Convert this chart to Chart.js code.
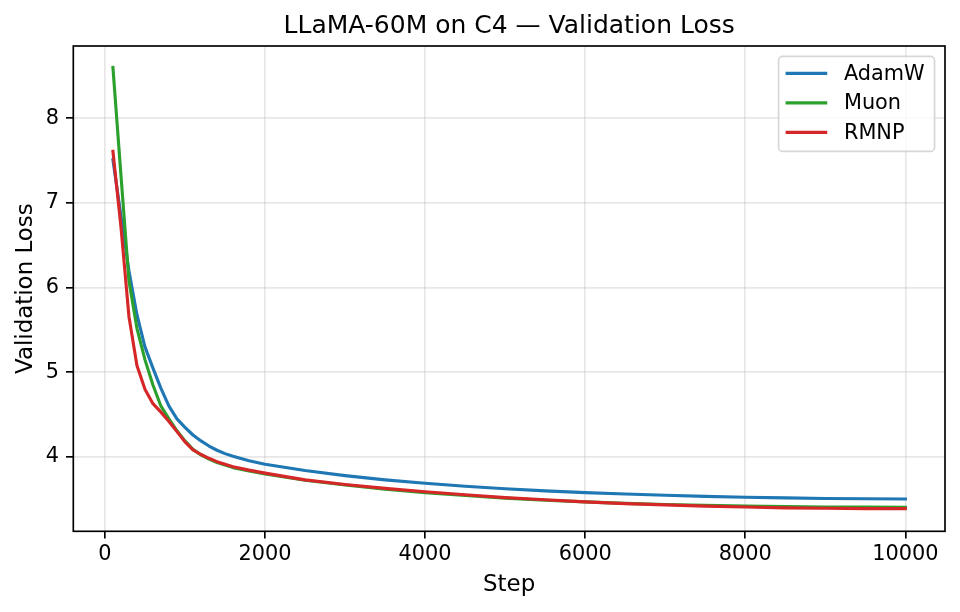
<!DOCTYPE html>
<html>
<head>
<meta charset="utf-8">
<script src="https://cdn.jsdelivr.net/npm/chart.js@4.4.1/dist/chart.umd.min.js"></script>
<style>
  body { margin: 0; background: #fff; }
</style>
</head>
<body>
<canvas id="grafica" width="960" height="612"></canvas>
<script>
// datos
const steps = [100, 200, 300, 400, 500, 600, 700, 800, 900, 1000, 1100, 1200, 1300, 1400, 1500,
  1600, 1800, 2000, 2500, 3000, 3500, 4000, 4500, 5000, 5500, 6000, 6500, 7000, 7500, 8000,
  8500, 9000, 9500, 10000];
const adamw = [7.51, 6.85, 6.20, 5.68, 5.30, 5.05, 4.81, 4.60, 4.45, 4.35, 4.26, 4.19, 4.13, 4.08, 4.04,
  4.01, 3.955, 3.915, 3.84, 3.78, 3.73, 3.69, 3.655, 3.625, 3.60, 3.58, 3.563, 3.548, 3.535, 3.525,
  3.517, 3.511, 3.507, 3.505];
const muon = [8.60, 7.33, 6.08, 5.52, 5.15, 4.85, 4.60, 4.45, 4.31, 4.19, 4.09, 4.025, 3.975, 3.935, 3.905,
  3.875, 3.835, 3.80, 3.725, 3.67, 3.62, 3.58, 3.545, 3.515, 3.49, 3.47, 3.452, 3.44, 3.43, 3.42,
  3.415, 3.41, 3.408, 3.405];
const rmnp = [7.61, 6.72, 5.66, 5.08, 4.80, 4.63, 4.53, 4.42, 4.30, 4.18, 4.085, 4.03, 3.985, 3.945, 3.915,
  3.885, 3.845, 3.81, 3.73, 3.675, 3.63, 3.59, 3.555, 3.52, 3.495, 3.47, 3.45, 3.435, 3.42, 3.41,
  3.40, 3.395, 3.39, 3.39];
const xTicks = [0, 2000, 4000, 6000, 8000, 10000];
const yTicks = [4, 5, 6, 7, 8];

const toPoints = (ys) => steps.map((s, i) => ({ x: s, y: ys[i] }));

const px = 150 / 72; // pt -> px
const tickFont = { family: "'DejaVu Sans'", size: 10 * px };
const gridColor = "rgba(176, 176, 176, 0.3)";

// marco + leyenda estilo matplotlib
const marcoLeyenda = {
  id: "marcoLeyenda",
  afterDraw(chart) {
    const ctx = chart.ctx;
    const a = chart.chartArea;
    ctx.save();
    ctx.strokeStyle = "#000";
    ctx.lineWidth = 0.8 * px;
    ctx.strokeRect(a.left, a.top, a.right - a.left, a.bottom - a.top);

    const fs = 10 * px;
    const right = a.right - 0.5 * fs;
    const top = a.top + 0.5 * fs;
    const w = 156, h = 95;
    const left = right - w;
    ctx.beginPath();
    ctx.roundRect(left, top, w, h, 4);
    ctx.fillStyle = "rgba(255,255,255,0.8)";
    ctx.fill();
    ctx.strokeStyle = "rgba(204,204,204,0.8)";
    ctx.lineWidth = 0.8 * px;
    ctx.stroke();

    ctx.font = fs + "px 'DejaVu Sans'";
    ctx.textBaseline = "middle";
    ctx.textAlign = "left";
    chart.data.datasets.forEach((ds, i) => {
      const y = top + 17 + i * 29.5;
      ctx.beginPath();
      ctx.moveTo(left + 7, y);
      ctx.lineTo(left + 7 + 2 * fs, y);
      ctx.strokeStyle = ds.borderColor;
      ctx.lineWidth = 1.5 * px;
      ctx.stroke();
      ctx.fillStyle = "#000";
      ctx.fillText(ds.label, left + 7 + 2.8 * fs, y + 1);
    });
    ctx.restore();
  },
};

const ctx = document.getElementById("grafica").getContext("2d");
window.myChart = new Chart(ctx, {
  type: "line",
  data: {
    datasets: [
      { label: "AdamW", data: toPoints(adamw), borderColor: "#1f77b4", order: 2 },
      { label: "Muon", data: toPoints(muon), borderColor: "#2ca02c", order: 1 },
      { label: "RMNP", data: toPoints(rmnp), borderColor: "#d62728", order: 0 },
    ],
  },
  options: {
    responsive: false,
    animation: false,
    parsing: false,
    layout: { padding: { left: 0, right: 15, top: 0, bottom: 0 } },
    elements: {
      point: { radius: 0 },
      line: { borderWidth: 1.5 * px, tension: 0, borderCapStyle: "square", borderJoinStyle: "round" },
    },
    plugins: {
      legend: { display: false },
      tooltip: { enabled: false },
      title: {
        display: true,
        fullSize: false,
        text: "LLaMA-60M on C4 — Validation Loss",
        color: "#000",
        font: { family: "'DejaVu Sans'", size: 12 * px, weight: "normal" },
        padding: { top: 11, bottom: 5 },
      },
    },
    scales: {
      x: {
        type: "linear",
        min: -395,
        max: 10495,
        afterBuildTicks: (scale) => { scale.ticks = xTicks.map((v) => ({ value: v })); },
        afterFit: (scale) => { scale.height = 80.7; },
        ticks: { color: "#000", font: tickFont, padding: 3, maxRotation: 0, callback: (v) => String(v) },
        grid: { color: gridColor, lineWidth: 0.8 * px, tickColor: "#000", tickWidth: 0.8 * px, tickLength: 3.5 * px },
        border: { display: false },
        title: {
          display: true,
          text: "Step",
          color: "#000",
          font: { family: "'DejaVu Sans'", size: 11 * px },
          padding: { top: 0, bottom: 13 },
        },
      },
      y: {
        type: "linear",
        min: 3.123,
        max: 8.853,
        afterBuildTicks: (scale) => { scale.ticks = yTicks.map((v) => ({ value: v })); },
        afterFit: (scale) => { scale.width = 73.3; },
        ticks: { color: "#000", font: tickFont, padding: 7, callback: (v) => String(v) },
        grid: { color: gridColor, lineWidth: 0.8 * px, tickColor: "#000", tickWidth: 0.8 * px, tickLength: 3.5 * px },
        border: { display: false },
        title: {
          display: true,
          text: "Validation Loss",
          color: "#000",
          font: { family: "'DejaVu Sans'", size: 11 * px },
          padding: { top: 12, bottom: 0 },
        },
      },
    },
  },
  plugins: [marcoLeyenda],
});
</script>
</body>
</html>
